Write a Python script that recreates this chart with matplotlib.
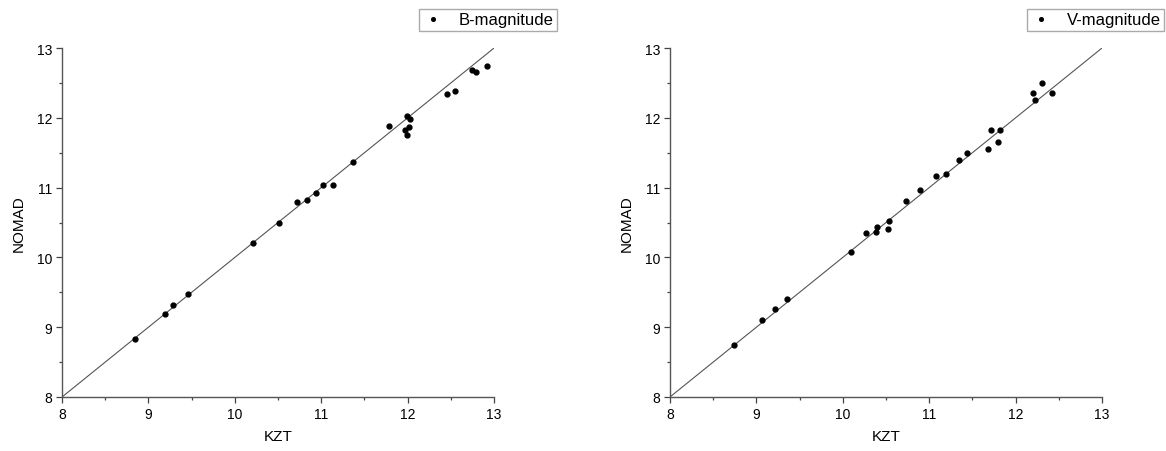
import matplotlib.pyplot as plt
import numpy as np
from matplotlib.ticker import MultipleLocator

plt.rcParams['font.family'] = ['Liberation Sans', 'DejaVu Sans']

# B-magnitude: KZT vs NOMAD
b_kzt = [8.84, 9.19, 9.28, 9.46, 10.21, 10.51, 10.72, 10.84, 10.94, 11.02,
         11.14, 11.37, 11.78, 11.99, 12.03, 11.97, 12.02, 11.99, 12.45, 12.55,
         12.75, 12.79, 12.92]
b_nomad = [8.83, 9.19, 9.32, 9.47, 10.21, 10.49, 10.80, 10.82, 10.93, 11.04,
           11.04, 11.36, 11.88, 12.03, 11.98, 11.83, 11.87, 11.75, 12.34, 12.39,
           12.68, 12.66, 12.74]

# V-magnitude: KZT vs NOMAD
v_kzt = [8.74, 9.07, 9.21, 9.35, 10.09, 10.27, 10.39, 10.40, 10.52, 10.54,
         10.73, 10.89, 11.08, 11.20, 11.35, 11.44, 11.68, 11.72, 11.80, 11.82,
         12.20, 12.22, 12.30, 12.42]
v_nomad = [8.75, 9.11, 9.26, 9.41, 10.08, 10.35, 10.37, 10.43, 10.41, 10.52,
           10.81, 10.96, 11.17, 11.20, 11.40, 11.49, 11.56, 11.83, 11.66, 11.82,
           12.36, 12.26, 12.50, 12.36]

limits = [8, 13]
ticks = [8, 9, 10, 11, 12, 13]


def draw_panel(fig, ax, x, y, label, legend_right):
    ax.plot(limits, limits, color='#555555', linewidth=0.8, zorder=1)
    ax.plot(x, y, 'o', color='black', markersize=3.5, linestyle='none',
            label=label, zorder=2)
    ax.set_xlim(limits)
    ax.set_ylim(limits)
    ax.set_xticks(ticks)
    ax.set_yticks(ticks)
    ax.xaxis.set_minor_locator(MultipleLocator(0.5))
    ax.yaxis.set_minor_locator(MultipleLocator(0.5))
    ax.spines['top'].set_visible(False)
    ax.spines['right'].set_visible(False)
    for s in ('left', 'bottom'):
        ax.spines[s].set_color('#555555')
        ax.spines[s].set_linewidth(1.0)
    ax.tick_params(which='major', direction='out', length=4, width=0.9,
                   color='#444444', labelsize=10, pad=3)
    ax.tick_params(which='minor', direction='out', length=2, width=0.9,
                   color='#444444')
    ax.set_xlabel('KZT', fontsize=11, labelpad=6)
    ax.set_ylabel('NOMAD', fontsize=11, labelpad=8)
    ax.legend(loc='upper right', bbox_to_anchor=(legend_right, 1 - 10 / 452),
              bbox_transform=fig.transFigure, borderaxespad=0,
              fancybox=False, edgecolor='#aaaaaa', fontsize=12,
              markerscale=0.75, handlelength=1.3, handletextpad=0.9,
              borderpad=0.2, framealpha=1)


fig = plt.figure(figsize=(11.66, 4.52), dpi=100)
ax1 = fig.add_axes([0.0532, 0.1195, 0.3705, 0.772])
ax2 = fig.add_axes([0.5746, 0.1195, 0.3705, 0.772])

draw_panel(fig, ax1, b_kzt, b_nomad, 'B-magnitude', 557 / 1166)
draw_panel(fig, ax2, v_kzt, v_nomad, 'V-magnitude', 1164 / 1166)

fig.savefig('out.png', dpi=100)
